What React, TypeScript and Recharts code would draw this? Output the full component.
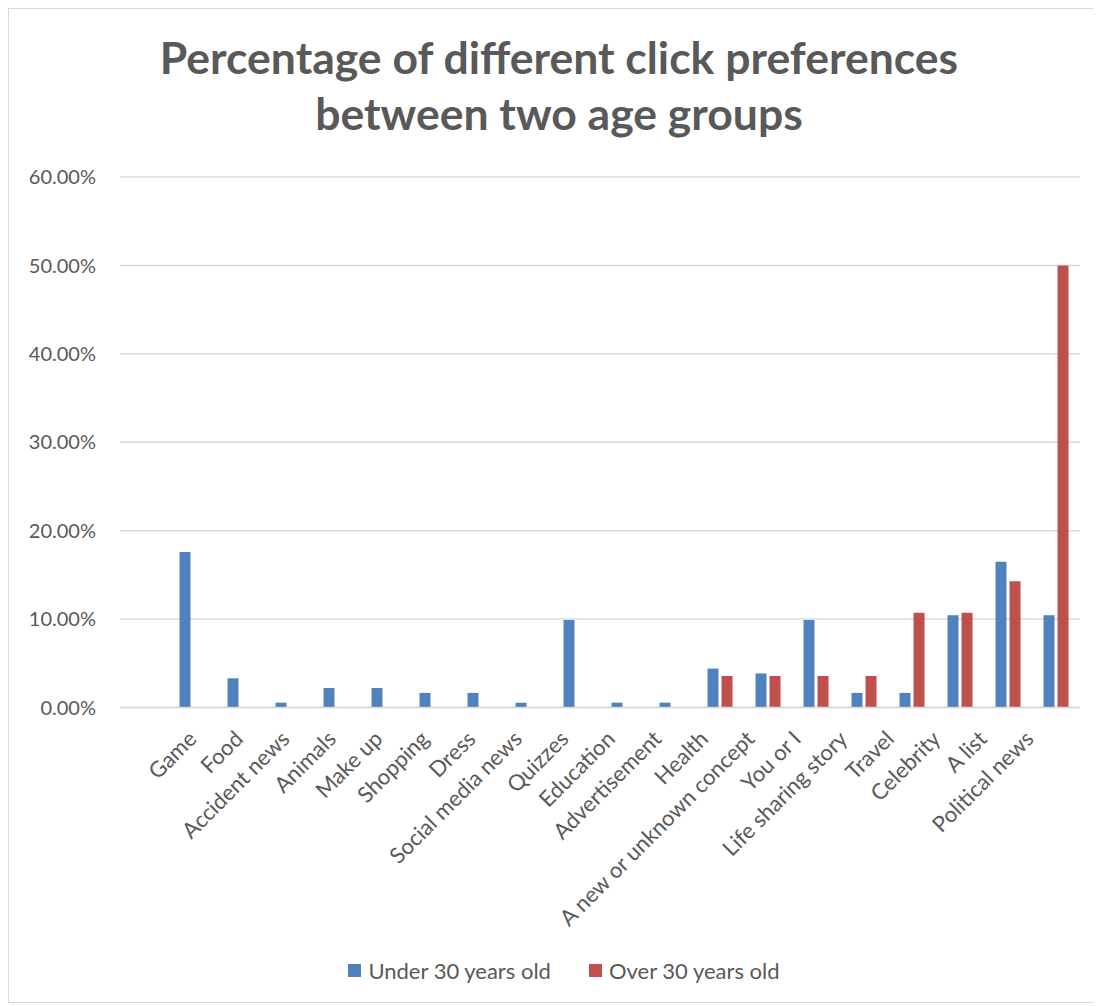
import { Bar, BarChart, CartesianGrid, Legend, XAxis, YAxis } from "recharts";

const categories = [
  "Game",
  "Food",
  "Accident news",
  "Animals",
  "Make up",
  "Shopping",
  "Dress",
  "Social media news",
  "Quizzes",
  "Education",
  "Advertisement",
  "Health",
  "A new or unknown concept",
  "You or I",
  "Life sharing story",
  "Travel",
  "Celebrity",
  "A list",
  "Political news",
];

// percent values
const under30 = [
  17.58, 3.3, 0.55, 2.2, 2.2, 1.65, 1.65, 0.55, 9.89, 0.55, 0.55, 4.4, 3.85, 9.89, 1.65,
  1.65, 10.44, 16.48, 10.44,
];
const over30 = [
  0, 0, 0, 0, 0, 0, 0, 0, 0, 0, 0, 3.57, 3.57, 3.57, 3.57, 10.71, 10.71, 14.29, 50.0,
];

const yTicks = [0, 10, 20, 30, 40, 50, 60];

const seriesNames = ["Under 30 years old", "Over 30 years old"];
const seriesColors = ["#4f81bd", "#c0504d"];

const data = categories.map((name, i) => ({
  name,
  under: under30[i],
  over: over30[i],
}));

const FONT = "Lato, 'Open Sans', sans-serif";
const TEXT = "#595959";

function CategoryTick({ x, y, payload, index }: any) {
  // Excel packs rotated labels a little tighter than the bands
  const tx = x - 5 - 1.5 * index;
  const ty = y + 14;
  return (
    <text
      x={tx}
      y={ty}
      dy="0.7em"
      fill={TEXT}
      fontFamily={FONT}
      fontSize={22}
      textAnchor="end"
      transform={`rotate(-45 ${tx} ${ty})`}
    >
      {payload.value}
    </text>
  );
}

function LegendBox() {
  return (
    <div
      style={{
        display: "flex",
        justifyContent: "center",
        gap: 38,
        paddingLeft: 10,
        fontFamily: FONT,
        fontSize: 22,
        color: TEXT,
      }}
    >
      {seriesNames.map((n, i) => (
        <div key={n} style={{ display: "flex", alignItems: "center", gap: 7 }}>
          <span style={{ width: 13, height: 13, background: seriesColors[i], display: "inline-block" }} />
          {n}
        </div>
      ))}
    </div>
  );
}

export default function App() {
  return (
    <div
      style={{
        position: "relative",
        width: 1085,
        height: 993,
        border: "1px solid #d9d9d9",
        background: "#fff",
      }}
    >
      <div
        style={{
          position: "absolute",
          top: 20,
          left: 0,
          width: 1100,
          textAlign: "center",
          fontFamily: FONT,
          fontWeight: 700,
          fontSize: 44.5,
          lineHeight: "56px",
          color: TEXT,
        }}
      >
        Percentage of different click preferences
        <br />
        between two age groups
      </div>
      <BarChart
        width={1085}
        height={993}
        data={data}
        margin={{ top: 168, right: 14, left: 0, bottom: 0 }}
        barCategoryGap="24%"
        barGap={3}
      >
        <CartesianGrid stroke="#d9d9d9" strokeWidth={1.5} vertical={false} />
        <XAxis
          dataKey="name"
          interval={0}
          height={267.5}
          padding={{ left: 48, right: 0 }}
          axisLine={{ stroke: "#d9d9d9", strokeWidth: 1.5 }}
          tickLine={false}
          tick={<CategoryTick />}
        />
        <YAxis
          domain={[0, 60]}
          ticks={yTicks}
          width={111}
          axisLine={false}
          tickLine={false}
          tickMargin={18}
          tickFormatter={(v: number) => `${v.toFixed(2)}%`}
          tick={{ fill: TEXT, fontSize: 20, fontFamily: FONT }}
        />
        <Legend
          content={() => <LegendBox />}
          wrapperStyle={{ top: 948, left: 0, width: 1100 }}
        />
        <Bar dataKey="under" name={seriesNames[0]} fill={seriesColors[0]} isAnimationActive={false} />
        <Bar dataKey="over" name={seriesNames[1]} fill={seriesColors[1]} isAnimationActive={false} />
      </BarChart>
    </div>
  );
}
